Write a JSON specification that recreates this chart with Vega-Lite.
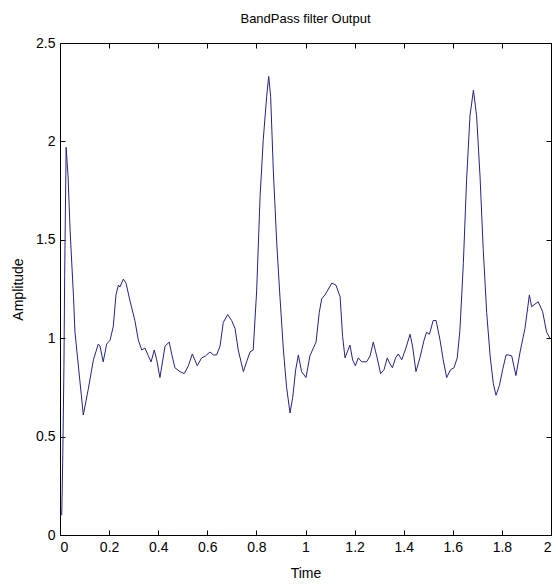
{
  "$schema": "https://vega.github.io/schema/vega-lite/v6.json",
  "width": 491,
  "height": 492,
  "autosize": {"type": "none"},
  "padding": {"left": 60, "top": 43, "right": 7, "bottom": 49},
  "background": "white",
  "title": {"text": "BandPass filter Output", "font": "Liberation Sans Narrow, Liberation Sans", "fontSize": 13, "fontWeight": "normal", "color": "#000", "offset": 10, "anchor": "middle"},
  "config": {
    "view": {"stroke": "#000", "strokeWidth": 1},
    "axis": {"grid": false, "domain": false, "labelFont": "Liberation Sans Narrow, Liberation Sans", "labelFontSize": 14, "labelColor": "#000", "titleFont": "Liberation Sans Narrow, Liberation Sans", "titleFontSize": 14, "titleFontWeight": "normal", "titleColor": "#000", "tickColor": "#000", "tickSize": -5, "tickWidth": 1}
  },
  "data": {"values": [
    {"t":0.007,"a":0.10},{"t":0.011,"a":0.37},{"t":0.016,"a":0.85},{"t":0.019,"a":1.32},{"t":0.025,"a":1.97},{"t":0.033,"a":1.82},{"t":0.041,"a":1.55},{"t":0.055,"a":1.21},{"t":0.061,"a":1.03},{"t":0.095,"a":0.61},
    {"t":0.115,"a":0.74},{"t":0.136,"a":0.89},{"t":0.156,"a":0.97},{"t":0.163,"a":0.96},{"t":0.176,"a":0.88},{"t":0.19,"a":0.97},{"t":0.204,"a":0.99},{"t":0.217,"a":1.06},{"t":0.228,"a":1.22},{"t":0.238,"a":1.27},
    {"t":0.244,"a":1.26},{"t":0.258,"a":1.30},{"t":0.269,"a":1.28},{"t":0.285,"a":1.19},{"t":0.305,"a":1.09},{"t":0.319,"a":0.99},{"t":0.333,"a":0.94},{"t":0.346,"a":0.95},{"t":0.36,"a":0.91},{"t":0.371,"a":0.88},
    {"t":0.384,"a":0.94},{"t":0.394,"a":0.89},{"t":0.407,"a":0.80},{"t":0.428,"a":0.96},{"t":0.445,"a":0.98},{"t":0.455,"a":0.92},{"t":0.468,"a":0.85},{"t":0.489,"a":0.83},{"t":0.506,"a":0.82},{"t":0.523,"a":0.86},
    {"t":0.539,"a":0.92},{"t":0.559,"a":0.86},{"t":0.577,"a":0.90},{"t":0.593,"a":0.91},{"t":0.611,"a":0.93},{"t":0.625,"a":0.915},{"t":0.638,"a":0.915},{"t":0.652,"a":0.96},{"t":0.665,"a":1.08},{"t":0.683,"a":1.12},
    {"t":0.699,"a":1.09},{"t":0.713,"a":1.05},{"t":0.726,"a":0.94},{"t":0.747,"a":0.83},{"t":0.76,"a":0.88},{"t":0.774,"a":0.93},{"t":0.787,"a":0.94},{"t":0.801,"a":1.24},{"t":0.815,"a":1.72},{"t":0.828,"a":2.01},
    {"t":0.842,"a":2.23},{"t":0.85,"a":2.33},{"t":0.858,"a":2.23},{"t":0.869,"a":1.85},{"t":0.883,"a":1.48},{"t":0.896,"a":1.21},{"t":0.91,"a":0.94},{"t":0.923,"a":0.75},{"t":0.937,"a":0.62},{"t":0.948,"a":0.70},
    {"t":0.96,"a":0.84},{"t":0.971,"a":0.915},{"t":0.984,"a":0.83},{"t":1.002,"a":0.80},{"t":1.018,"a":0.91},{"t":1.032,"a":0.95},{"t":1.043,"a":0.98},{"t":1.056,"a":1.13},{"t":1.066,"a":1.20},{"t":1.079,"a":1.22},
    {"t":1.089,"a":1.24},{"t":1.107,"a":1.28},{"t":1.124,"a":1.27},{"t":1.141,"a":1.21},{"t":1.151,"a":1.01},{"t":1.161,"a":0.90},{"t":1.17,"a":0.93},{"t":1.181,"a":0.965},{"t":1.192,"a":0.89},{"t":1.203,"a":0.86},
    {"t":1.215,"a":0.90},{"t":1.229,"a":0.88},{"t":1.249,"a":0.88},{"t":1.263,"a":0.91},{"t":1.276,"a":0.98},{"t":1.29,"a":0.91},{"t":1.306,"a":0.82},{"t":1.32,"a":0.84},{"t":1.333,"a":0.90},{"t":1.344,"a":0.87},
    {"t":1.354,"a":0.85},{"t":1.367,"a":0.90},{"t":1.378,"a":0.92},{"t":1.392,"a":0.89},{"t":1.409,"a":0.95},{"t":1.426,"a":1.02},{"t":1.436,"a":0.96},{"t":1.45,"a":0.83},{"t":1.466,"a":0.90},{"t":1.483,"a":0.99},
    {"t":1.493,"a":1.03},{"t":1.505,"a":1.02},{"t":1.52,"a":1.09},{"t":1.532,"a":1.09},{"t":1.548,"a":0.99},{"t":1.561,"a":0.89},{"t":1.575,"a":0.80},{"t":1.591,"a":0.84},{"t":1.605,"a":0.85},{"t":1.618,"a":0.90},
    {"t":1.629,"a":1.04},{"t":1.643,"a":1.38},{"t":1.656,"a":1.80},{"t":1.67,"a":2.13},{"t":1.684,"a":2.26},{"t":1.697,"a":2.13},{"t":1.711,"a":1.82},{"t":1.724,"a":1.45},{"t":1.738,"a":1.13},{"t":1.752,"a":0.91},
    {"t":1.765,"a":0.77},{"t":1.776,"a":0.71},{"t":1.79,"a":0.76},{"t":1.803,"a":0.84},{"t":1.817,"a":0.915},{"t":1.826,"a":0.915},{"t":1.84,"a":0.91},{"t":1.857,"a":0.81},{"t":1.874,"a":0.93},{"t":1.894,"a":1.05},
    {"t":1.912,"a":1.22},{"t":1.921,"a":1.16},{"t":1.931,"a":1.17},{"t":1.948,"a":1.185},{"t":1.966,"a":1.135},{"t":1.982,"a":1.03},{"t":1.996,"a":1.0}
  ]},
  "resolve": {"axis": {"x": "independent", "y": "independent"}},
  "layer": [
    {
      "mark": {"type": "line", "color": "#23237f", "strokeWidth": 1, "clip": true},
      "encoding": {
        "x": {"field": "t", "type": "quantitative", "scale": {"domain": [0, 2], "nice": false}, "axis": {"title": "Time", "values": [0,0.2,0.4,0.6,0.8,1,1.2,1.4,1.6,1.8,2], "labelExpr": "'' + datum.value", "labelPadding": 10, "titlePadding": 12, "orient": "bottom"}},
        "y": {"field": "a", "type": "quantitative", "scale": {"domain": [0, 2.5], "nice": false, "zero": false}, "axis": {"title": "Amplitude", "values": [0,0.5,1,1.5,2,2.5], "labelExpr": "'' + datum.value", "labelPadding": 10, "titlePadding": 10, "orient": "left"}}
      }
    },
    {
      "mark": {"type": "line", "opacity": 0},
      "encoding": {
        "x": {"field": "t", "type": "quantitative", "scale": {"domain": [0, 2], "nice": false}, "axis": {"title": null, "values": [0,0.2,0.4,0.6,0.8,1,1.2,1.4,1.6,1.8,2], "labels": false, "orient": "top"}},
        "y": {"field": "a", "type": "quantitative", "scale": {"domain": [0, 2.5], "nice": false, "zero": false}, "axis": {"title": null, "values": [0,0.5,1,1.5,2,2.5], "labels": false, "orient": "right"}}
      }
    }
  ]
}
